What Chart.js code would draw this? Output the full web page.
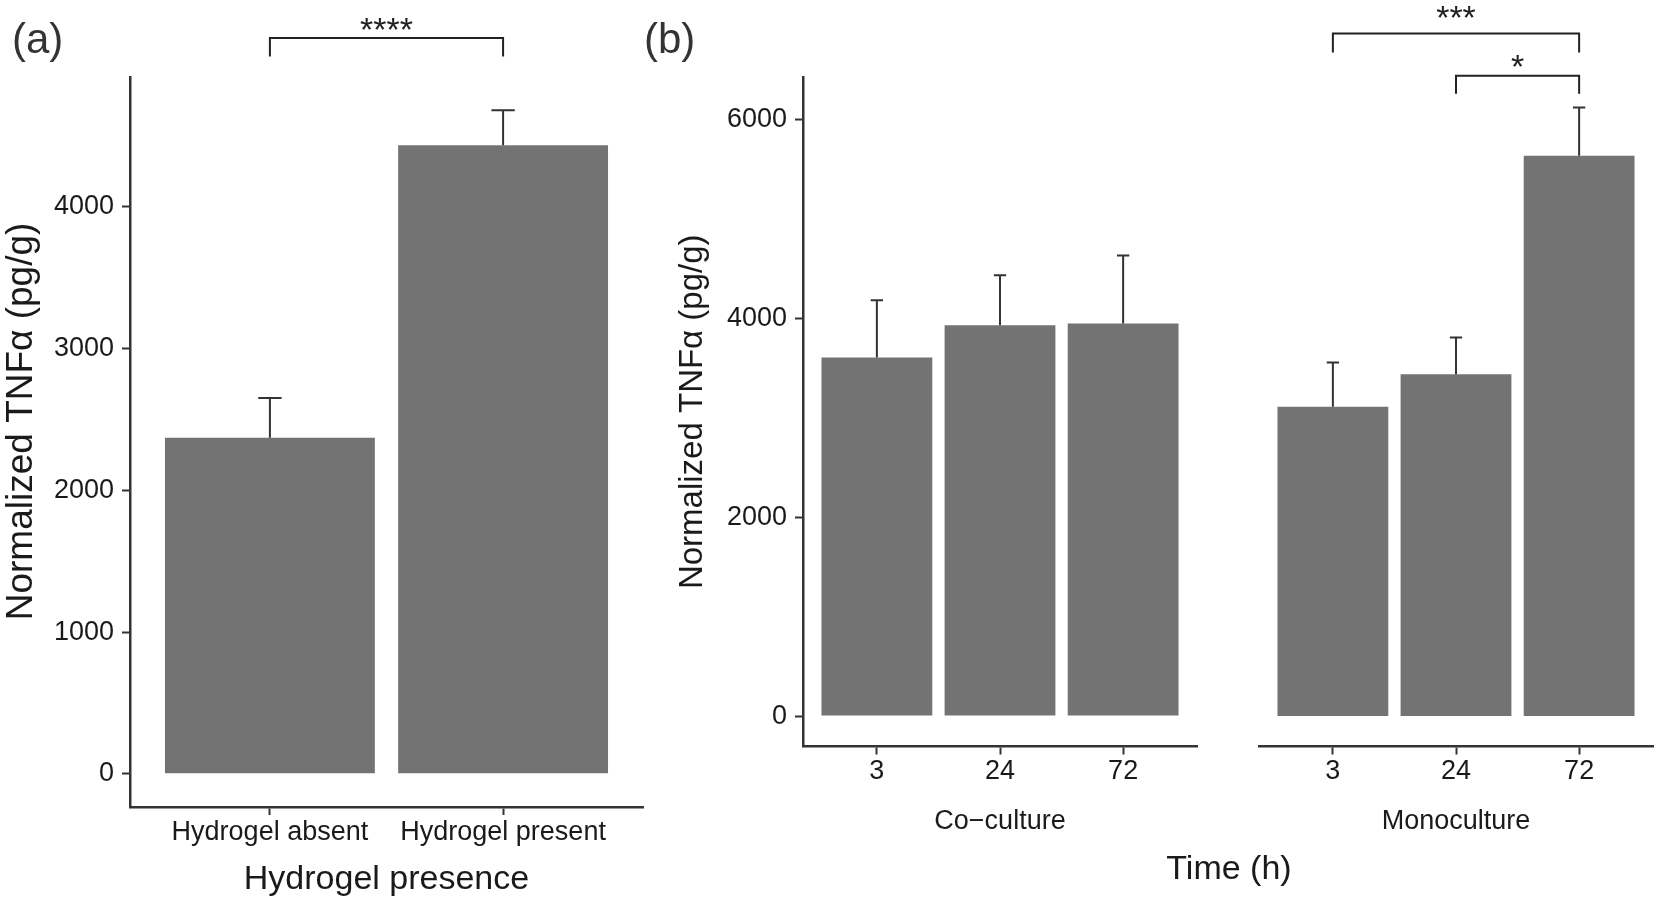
<!DOCTYPE html>
<html>
<head>
<meta charset="utf-8">
<script src="https://cdn.jsdelivr.net/npm/chart.js@4.4.1/dist/chart.umd.min.js"></script>
<style>
html,body{margin:0;padding:0;background:#fff;}
#wrap{position:relative;width:1659px;height:905px;overflow:hidden;background:#fff;font-family:'Liberation Sans',Arial,Helvetica,sans-serif;}
canvas{position:absolute;top:0;}
.lbl{position:absolute;white-space:nowrap;}
</style>
</head>
<body>
<div id="wrap">
  <canvas id="cA" width="660" height="905" style="left:0px"></canvas>
  <canvas id="cB" width="560" height="905" style="left:660px"></canvas>
  <canvas id="cC" width="439" height="905" style="left:1220px"></canvas>
  <div class="lbl" style="left:12px;top:18px;font-size:42px;line-height:42px;color:#333;">(a)</div>
  <div class="lbl" style="left:644px;top:18px;font-size:42px;line-height:42px;color:#333;">(b)</div>
  <div class="lbl" style="left:1129px;width:200px;text-align:center;top:847px;font-size:34px;line-height:40px;color:#1a1a1a;">Time (h)</div>
</div>
<script>
// ---------------- data ----------------
const hydrogelCategories = ['Hydrogel absent', 'Hydrogel present'];
const hydrogelMeans = [2371, 4434];
const hydrogelSD = [280, 247];

const timeCategories = ['3', '24', '72'];
const cocultureMeans = [3608, 3933, 3950];
const cocultureSD = [576, 502, 683];
const monocultureMeans = [3112, 3440, 5638];
const monocultureSD = [446, 369, 486];

const yTicksA = [0, 1000, 2000, 3000, 4000];
const yTicksB = [0, 2000, 4000, 6000];

// significance brackets (data units)
const sigAFrom = [0], sigATo = [1], sigAY = [5190], sigATip = [5060], sigALabelY = [5167], sigALabels = ['****'];
const sigMonoFrom = [0, 1], sigMonoTo = [2, 2], sigMonoY = [6867, 6443], sigMonoTip = [6676, 6262],
      sigMonoLabelY = [6910, 6422], sigMonoLabels = ['***', '*'];

// ---------------- style ----------------
const FONT = "'Liberation Sans', Arial, Helvetica, sans-serif";
Chart.defaults.font.family = FONT;
const BAR = '#737373';
const AXIS = '#333333';
const TEXT = '#1a1a1a';

function overlay(sd, br) {
  return {
    id: 'overlay',
    afterDatasetsDraw(chart) {
      const ctx = chart.ctx, xs = chart.scales.x, ys = chart.scales.y;
      const meta = chart.getDatasetMeta(0);
      const data = chart.data.datasets[0].data;
      const half = Math.abs(xs.getPixelForValue(1.05) - xs.getPixelForValue(1));
      ctx.save();
      ctx.strokeStyle = AXIS; ctx.lineWidth = 2; ctx.lineCap = 'butt';
      meta.data.forEach((bar, i) => {
        const top = ys.getPixelForValue(data[i].y + sd[i]);
        ctx.beginPath();
        ctx.moveTo(bar.x, bar.y); ctx.lineTo(bar.x, top);
        ctx.moveTo(bar.x - half, top); ctx.lineTo(bar.x + half, top);
        ctx.stroke();
      });
      if (br) {
        ctx.strokeStyle = '#222'; ctx.fillStyle = '#222';
        ctx.font = '34px ' + FONT; ctx.textAlign = 'center'; ctx.textBaseline = 'alphabetic';
        br.from.forEach((f, k) => {
          const x1 = xs.getPixelForValue(f + 1), x2 = xs.getPixelForValue(br.to[k] + 1);
          const y = ys.getPixelForValue(br.y[k]), yt = ys.getPixelForValue(br.tip[k]);
          ctx.beginPath();
          ctx.moveTo(x1, yt); ctx.lineTo(x1, y); ctx.lineTo(x2, y); ctx.lineTo(x2, yt);
          ctx.stroke();
          ctx.fillText(br.labels[k], (x1 + x2) / 2, ys.getPixelForValue(br.labelY[k]));
        });
      }
      ctx.restore();
    }
  };
}

function xScale(cats, xHeight, title, titleFont, titlePad) {
  return {
    type: 'linear', min: 0.4, max: cats.length + 0.6, offset: false,
    afterBuildTicks: s => { s.ticks = cats.map((c, i) => ({ value: i + 1 })); },
    afterFit: s => { s.height = xHeight; },
    ticks: { autoSkip: false, maxRotation: 0, padding: 1, color: TEXT,
             font: { size: 27 }, callback: (v, i) => cats[i] },
    grid: { display: true, offset: false, drawOnChartArea: false, drawTicks: true,
            tickLength: 8, tickColor: AXIS, tickWidth: 2, color: AXIS },
    border: { display: true, color: AXIS, width: 2.5 },
    title: { display: true, text: title, color: TEXT, font: { size: titleFont }, padding: titlePad }
  };
}

function yScale(ticks, min, max, width, title, titleSize, titlePadTop, show) {
  return {
    type: 'linear', min: min, max: max, display: show,
    afterBuildTicks: s => { s.ticks = ticks.map(v => ({ value: v })); },
    afterFit: s => { s.width = width; },
    ticks: { padding: 8, color: TEXT, font: { size: 27 }, callback: v => String(v) },
    grid: { display: true, drawOnChartArea: false, drawTicks: true,
            tickLength: 8, tickColor: AXIS, tickWidth: 2, color: AXIS },
    border: { display: true, color: AXIS, width: 2.5 },
    title: { display: true, text: title, color: TEXT,
             font: { size: titleSize }, padding: { top: titlePadTop, bottom: 0 } }
  };
}

function barChart(id, means, sd, padding, xs, ys, br) {
  return new Chart(document.getElementById(id), {
    type: 'bar',
    data: { datasets: [{ data: means.map((v, i) => ({ x: i + 1, y: v })),
                         backgroundColor: BAR, borderWidth: 0,
                         barPercentage: 0.9, categoryPercentage: 1 }] },
    options: {
      responsive: false, maintainAspectRatio: false, animation: false, devicePixelRatio: 1,
      layout: { padding: padding },
      plugins: { legend: { display: false }, tooltip: { enabled: false }, title: { display: false } },
      scales: { x: xs, y: ys }
    },
    plugins: [overlay(sd, br)]
  });
}

const yTitle = 'Normalized TNFα (pg/g)';

// Panel (a)
barChart('cA', hydrogelMeans, hydrogelSD,
  { top: 77, right: 17, bottom: 0, left: 0 },
  xScale(hydrogelCategories, 98, 'Hydrogel presence', 34, { top: 0, bottom: 5 }),
  yScale(yTicksA, -234, 4915, 130, '    ' + yTitle, 37, 0, true),
  { from: sigAFrom, to: sigATo, y: sigAY, tip: sigATip, labelY: sigALabelY, labels: sigALabels });

// Panel (b) - Co-culture facet
barChart('cB', cocultureMeans, cocultureSD,
  { top: 77, right: 23, bottom: 0, left: 0 },
  xScale(timeCategories, 158.5, 'Co\u2212culture', 27, { top: 0, bottom: 67 }),
  yScale(yTicksB, -306, 6430, 143, yTitle, 33, 13, true),
  null);

// Panel (b) - Monoculture facet
barChart('cC', monocultureMeans, monocultureSD,
  { top: 77, right: 6, bottom: 0, left: 39 },
  xScale(timeCategories, 158.5, 'Monoculture', 27, { top: 0, bottom: 67 }),
  yScale(yTicksB, -306, 6430, 0, yTitle, 33, 0, false),
  { from: sigMonoFrom, to: sigMonoTo, y: sigMonoY, tip: sigMonoTip, labelY: sigMonoLabelY, labels: sigMonoLabels });
</script>
</body>
</html>
